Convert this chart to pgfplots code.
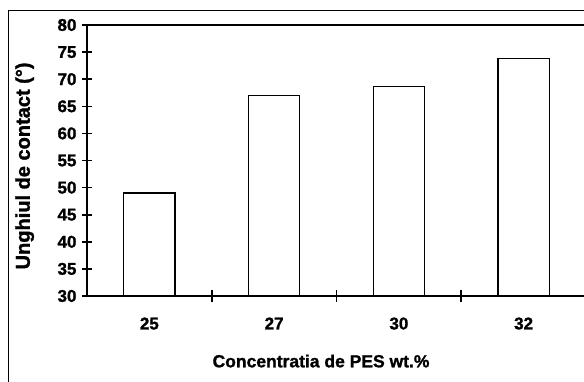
\documentclass[border=0pt]{standalone}
\usepackage{pgfplots}
\pgfplotsset{compat=1.18}
\usepackage{fontspec}
\setmainfont{Liberation Sans}[BoldFeatures={FakeBold=1.3}]
\begin{document}
\begin{tikzpicture}[x=1pt,y=1pt]
\useasboundingbox (0,0) rectangle (584,381);
\draw[line width=0.7pt] (8,-5) -- (8,371) -- (600,371);
\begin{axis}[
  at={(87pt,85pt)}, anchor=south west,
  scale only axis, width=499pt, height=271pt,
  xmin=-0.5, xmax=3.5, ymin=30, ymax=80,
  xtick={0,1,2,3}, xticklabels={25,27,30,32},
  minor xtick={0.5,1.5,2.5},
  ytick={30,35,...,80},
  xtick pos=bottom, ytick pos=left,
  major x tick style={draw=none},
  tick align=center,
  major tick length=10pt, minor tick length=12pt,
  every tick/.style={line width=1.6pt, black},
  axis line style={line width=1.8pt},
  /pgf/number format/assume math mode=true,
  ticklabel style={font=\fontsize{17}{19}\selectfont\bfseries},
  xticklabel style={yshift=-13pt},
  yticklabel style={xshift=-2pt},
  xlabel={Concentratia de PES wt.\%},
  xlabel style={font=\fontsize{17.5}{19}\selectfont\bfseries, at={(axis description cs:0.469,-0.24)}, anchor=center},
  ylabel={Unghiul de contact (°)},
  ylabel style={font=\fontsize{20}{22}\selectfont\bfseries, at={(axis description cs:-0.125,0.48)}, anchor=center},
  clip=false,
]
\addplot[ybar, bar width=0.41, fill=white, draw=black, line width=1.3pt] coordinates {(0,49) (1,67) (2,68.6) (3,73.8)};
\end{axis}
\end{tikzpicture}
\end{document}
